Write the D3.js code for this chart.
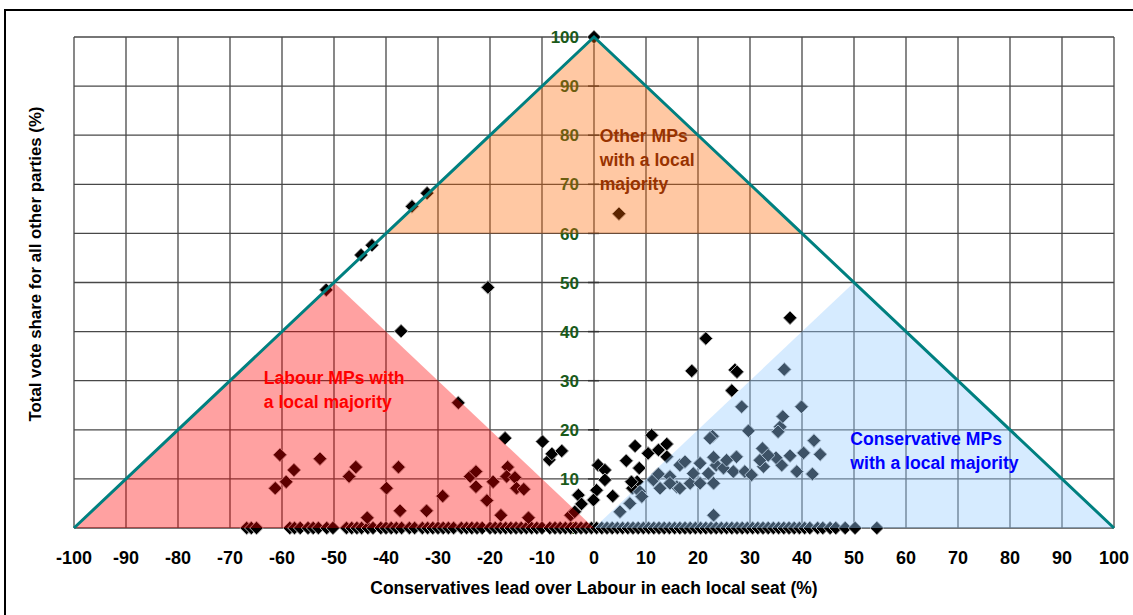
<!DOCTYPE html>
<html>
<head>
<meta charset="utf-8">
<script src="https://cdn.jsdelivr.net/npm/d3@7"></script>
<style>
  html, body { margin: 0; padding: 0; background: #fff; }
  svg { display: block; font-family: "Liberation Sans", Arial, sans-serif; }
</style>
</head>
<body>
<svg id="chart" width="1133" height="615"></svg>
<script>
// ---------- DATA ----------
const xTickValues = [-100,-90,-80,-70,-60,-50,-40,-30,-20,-10,0,10,20,30,40,50,60,70,80,90,100];
const yTickValues = [0,10,20,30,40,50,60,70,80,90,100];

// Seats with a non-zero "other parties" share: Conservative lead (%), other share (%)
const seatLead = [
  0, 4.8, -35, -32.1, -44.8, -42.7, -51.5, -20.4, -37.1, -26.1,
  -60.4, -57.7, -59.2, -61.3, -52.7, -45.8, -47.1, -43.6,
  -37.6, -39.9, -37.3, -32.2, -29.1, -23.8, -22.7, -22.7, -19.4, -20.6, -17.9, -17.1,
  -16.6, -16.8, -15.2, -14.9, -13.5, -12.6, -9.9, -8.6, -8.1, -6.2, -4.5, -3.0, -2.4, -3.7,
  0.8, 2.1, 2.1, 0.5, -0.1, 3.6, 6.2, 7.9, 8.7, 8.3, 7.4, 11.1, 10.4, 12.4, 14, 14, 7.2,
  8.8, 6.9, 5, 11.4, 12.7, 14.6, 15.9, 9.2, 12.4, 14.6, 16.5, 18.5, 16.5, 19.1, 20.4, 20.4,
  22, 23, 23.5, 24.9, 26.8, 29, 30.3, 32.6, 36.1, 39, 42, 43.5, 42.3, 40.3, 37.7, 35, 31.9,
  27.4, 23, 32.4, 22.8, 22.3, 29.7, 35.8, 35.4, 36.3, 28.4, 39.9, 26.5, 27.1, 27.5, 36.6,
  18.8, 21.5, 37.7, 23, 17.5, 25.5, 33.5
];
const otherShare = [
  100, 64, 65.5, 68.2, 55.6, 57.6, 48.5, 49, 40.1, 25.5,
  14.9, 11.8, 9.4, 8.1, 14.1, 12.4, 10.5, 2.1,
  12.4, 8.1, 3.5, 3.5, 6.5, 10.5, 11.5, 8.4, 9.4, 5.6, 2.6, 18.3,
  12.4, 10.5, 10.3, 8.1, 7.9, 2.1, 17.6, 13.9, 15.1, 15.7, 2.6, 6.7, 4.9, 3.3,
  12.8, 11.8, 9.8, 7.7, 5.7, 6.5, 13.7, 16.7, 12.2, 9.4, 8.1, 18.9, 15.2, 15.9, 17.1, 14.5, 9.4,
  7.4, 5.0, 3.3, 9.8, 8.1, 10.5, 8.4, 6.4, 11, 9.1, 12.8, 9.1, 8.1, 11.1, 13.2, 9.1,
  11.1, 9.1, 12.8, 12.2, 11.5, 11.5, 10.8, 12.5, 12.8, 11.5, 11, 15, 17.8, 15.3, 14.7, 14.3, 13.8,
  14.5, 14.4, 16.2, 18.7, 18.3, 19.8, 20.6, 19.6, 22.7, 24.7, 24.7, 28, 32.2, 31.8, 32.3,
  32, 38.6, 42.8, 2.6, 13.5, 13.8, 14.8
];

// Seats where other parties took no share (sit on the baseline)
const baselineLead = [
  -66.8, -65.9, -64.9, -58.5, -57.6, -56.5, -55, -54, -53, -51.4, -50.2,
  -47.6, -46.6, -45.6, -44.7, -43.5, -42.5, -41, -40, -39, -38, -37, -35.5, -34.5,
  -33, -32, -31, -30, -29, -28, -27, -25.5, -24.5, -23.5, -22.5, -21.5, -20, -19,
  -18, -17, -16, -15, -14, -13, -12, -11, -10, -8.5, -7.5, -6.5, -5.5, -4.5, -3.5,
  -2.5, -1.5, -0.5, 0.5, 1.5, 2.5, 3.5, 4.5, 5.5, 6.5, 7.5, 8.5, 9.5, 10.5, 11.5,
  12.5, 13.5, 14.5, 15.5, 16.5, 17.5, 18.5, 19.5, 20.5, 21.5, 22.5, 23.5, 24.5,
  25.5, 26.5, 27.5, 28.5, 29.5, 30.5, 31.5, 32.5, 33.5, 34.5, 35.5, 36.5, 37.5,
  38.5, 39.5, 40.5, 41.5, 43, 44, 45.4, 46.5, 48.3, 50.2, 54.4
];

// Region outlines (data units: lead, other share)
const labourRegion = [[-100,0],[-50,50],[0,0]];
const otherRegion = [[-40,60],[0,100],[40,60]];
const conRegion = [[0,0],[50,50],[100,0]];
const boundaryLine = [[-100,0],[0,100],[100,0]];

const regionLabels = [
  {lines: ["Other MPs", "with a local", "majority"], at: [1.1, 78.6], color: "#993300"},
  {lines: ["Labour MPs with", "a local majority"], at: [-63.5, 29.3], color: "#ff0000"},
  {lines: ["Conservative MPs", "with a local majority"], at: [49.3, 16.9], color: "#0000ff"}
];

// ---------- CHART ----------
const svg = d3.select("#chart");
const x = d3.scaleLinear().domain([-100, 100]).range([74, 1114]);
const y = d3.scaleLinear().domain([0, 100]).range([528, 37]);

// frame
svg.append("rect").attr("x", 5).attr("y", 10).attr("width", 1140).attr("height", 620)
  .attr("fill", "#fff").attr("stroke", "#000").attr("stroke-width", 2);

// grid
const grid = svg.append("g").attr("stroke", "#484848").attr("stroke-width", 1.3);
grid.selectAll("line.v").data(xTickValues).join("line")
  .attr("x1", d => x(d)).attr("x2", d => x(d))
  .attr("y1", y(0)).attr("y2", y(100));
grid.selectAll("line.h").data(yTickValues).join("line")
  .attr("x1", x(-100)).attr("x2", x(100))
  .attr("y1", d => y(d)).attr("y2", d => y(d));

// y axis at x = 0 (ticks + labels)
const yAxis = svg.append("g");
yAxis.selectAll("line").data(yTickValues).join("line")
  .attr("x1", x(0) - 6).attr("x2", x(0) + 5)
  .attr("y1", d => y(d)).attr("y2", d => y(d))
  .attr("stroke", "#333").attr("stroke-width", 1.5);
yAxis.selectAll("text").data(yTickValues).join("text")
  .attr("x", x(0) - 15).attr("y", d => y(d)).attr("dy", "0.36em")
  .attr("text-anchor", "end").attr("font-size", 17).attr("font-weight", "bold")
  .attr("fill", "#1a5a1a").text(d => d);

// markers
const diamond = "M0,-6.8L6.8,0L0,6.8L-6.8,0Z";
const pts = svg.append("g");
pts.selectAll("path.b").data(baselineLead).join("path")
  .attr("d", diamond)
  .attr("transform", d => `translate(${x(d)},${y(0)})`)
  .attr("fill", "#000").attr("stroke", "#b5b5b5").attr("stroke-width", 1);
pts.selectAll("path.s").data(seatLead.map((d, i) => [d, otherShare[i]])).join("path")
  .attr("d", diamond)
  .attr("transform", d => `translate(${x(d[0])},${y(d[1])})`)
  .attr("fill", "#000").attr("stroke", "#b5b5b5").attr("stroke-width", 1);

// regions (translucent, on top of markers)
const poly = d3.line().x(d => x(d[0])).y(d => y(d[1]));
svg.append("path").attr("d", poly(labourRegion) + "Z").attr("fill", "#ff0000").attr("fill-opacity", 0.37);
svg.append("path").attr("d", poly(otherRegion) + "Z").attr("fill", "#ff6600").attr("fill-opacity", 0.36);
svg.append("path").attr("d", poly(conRegion) + "Z").attr("fill", "#99ccff").attr("fill-opacity", 0.4);

// boundary lines
svg.append("path").attr("d", poly(boundaryLine)).attr("fill", "none")
  .attr("stroke", "#008080").attr("stroke-width", 3);

// region labels
regionLabels.forEach(r => {
  const t = svg.append("text").attr("font-size", 17.6).attr("font-weight", "bold").attr("fill", r.color);
  r.lines.forEach((ln, i) => {
    t.append("tspan").attr("x", x(r.at[0])).attr("y", y(r.at[1]) + i * 24).text(ln);
  });
});

// x tick labels
svg.append("g").selectAll("text").data(xTickValues).join("text")
  .attr("x", d => x(d)).attr("y", 564)
  .attr("text-anchor", "middle").attr("font-size", 18).attr("font-weight", "bold")
  .attr("fill", "#000").text(d => d);

// axis titles
svg.append("text").attr("x", x(0)).attr("y", 594).attr("text-anchor", "middle")
  .attr("font-size", 17.5).attr("font-weight", "bold").attr("fill", "#000")
  .text("Conservatives lead over Labour in each local seat (%)");
svg.append("text").attr("transform", "translate(41,264) rotate(-90)").attr("text-anchor", "middle")
  .attr("font-size", 16.8).attr("font-weight", "bold").attr("fill", "#000")
  .text("Total vote share for all other parties (%)");
</script>
</body>
</html>
